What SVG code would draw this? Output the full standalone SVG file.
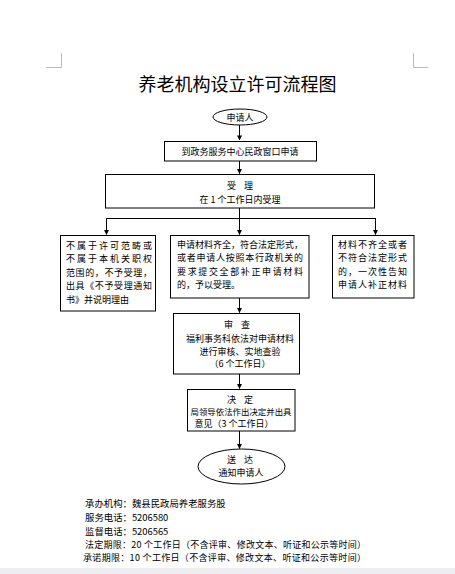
<svg xmlns="http://www.w3.org/2000/svg" width="455" height="574" viewBox="0 0 455 574">
<defs>
<marker id="ah" viewBox="0 0 6 6" refX="5.5" refY="3" markerWidth="5" markerHeight="5" orient="auto" markerUnits="userSpaceOnUse">
<path d="M0,0 L6,3 L0,6 z" fill="#000"/>
</marker>
</defs>
<style>
text{font-family:"Noto Sans CJK SC","Noto Sans",sans-serif;fill:#000;dominant-baseline:central}
.t{font-size:9px}
.c{text-anchor:middle}
.box{fill:#fff;stroke:#000;stroke-width:1}
.ln{fill:none;stroke:#000;stroke-width:1}
.ar{fill:none;stroke:#000;stroke-width:1;marker-end:url(#ah)}
.crn{fill:none;stroke:#bbb;stroke-width:1}
</style>
<rect x="0" y="0" width="455" height="574" fill="#fff"/>
<rect x="0" y="568" width="455" height="6" fill="#eeeef2"/>
<path class="crn" d="M46,67.5 H61.5 V53 M428,67.5 H413.5 V53"/>
<text x="237.5" y="83" class="c" style="font-size:18px">养老机构设立许可流程图</text>

<g id="connectors">
<line class="ar" x1="239.5" y1="125" x2="239.5" y2="140"/>
<line class="ar" x1="239.5" y1="161" x2="239.5" y2="173.5"/>
<line class="ln" x1="239.5" y1="208" x2="239.5" y2="218"/>
<line class="ln" x1="106.5" y1="218.5" x2="375.5" y2="218.5"/>
<line class="ar" x1="106.5" y1="218" x2="106.5" y2="234.5"/>
<line class="ar" x1="239.5" y1="218" x2="239.5" y2="234.5"/>
<line class="ar" x1="375.5" y1="218" x2="375.5" y2="234.5"/>
<line class="ar" x1="239.5" y1="298" x2="239.5" y2="312.5"/>
<line class="ar" x1="239.5" y1="374" x2="239.5" y2="388.5"/>
<line class="ar" x1="239.5" y1="431" x2="239.5" y2="448.5"/>
</g>

<g id="applicant">
<ellipse class="box" cx="240" cy="117" rx="27" ry="8"/>
<text x="240" y="117" class="t c">申请人</text>
</g>

<g id="apply">
<rect class="box" x="164.5" y="141.5" width="152" height="19.5"/>
<text x="240" y="151" class="t c">到政务服务中心民政窗口申请</text>
</g>

<g id="accept">
<rect class="box" x="105.5" y="174.5" width="269" height="33.5"/>
<text x="240" y="185" class="t c" xml:space="preserve">受    理</text>
<text x="240" y="199" class="t c">在 1 个工作日内受理</text>
</g>

<g id="reject">
<rect class="box" x="60.5" y="235.5" width="95" height="75.5"/>
<text x="66" y="245" class="t" textLength="86" lengthAdjust="spacing">不属于许可范畴或</text>
<text x="66" y="258.5" class="t" textLength="86" lengthAdjust="spacing">不属于本机关职权</text>
<text x="66" y="272" class="t" textLength="86" lengthAdjust="spacing">范围的，不予受理，</text>
<text x="66" y="285.5" class="t" textLength="86" lengthAdjust="spacing">出具《不予受理通知</text>
<text x="66" y="299" class="t">书》并说明理由</text>
</g>

<g id="ok">
<rect class="box" x="170.5" y="235.5" width="138.5" height="62.5"/>
<text x="177" y="244" class="t" textLength="126" lengthAdjust="spacing">申请材料齐全，符合法定形式，</text>
<text x="177" y="257.5" class="t" textLength="126" lengthAdjust="spacing">或者申请人按照本行政机关的</text>
<text x="177" y="271" class="t" textLength="126" lengthAdjust="spacing">要求提交全部补正申请材料</text>
<text x="177" y="284.5" class="t">的，予以受理。</text>
</g>

<g id="incomplete">
<rect class="box" x="332.5" y="235.5" width="81.5" height="62.5"/>
<text x="338" y="244" class="t" textLength="69" lengthAdjust="spacing">材料不齐全或者</text>
<text x="338" y="257.5" class="t" textLength="69" lengthAdjust="spacing">不符合法定形式</text>
<text x="338" y="271" class="t" textLength="69" lengthAdjust="spacing">的，一次性告知</text>
<text x="338" y="284.5" class="t" textLength="69" lengthAdjust="spacing">申请人补正材料</text>
</g>

<g id="review">
<rect class="box" x="173.5" y="313.5" width="126" height="60.5"/>
<text x="237" y="324" class="t c" xml:space="preserve">审    查</text>
<text x="240" y="338" class="t c">福利事务科依法对申请材料</text>
<text x="240" y="351" class="t c">进行审核、实地查验</text>
<text x="240" y="363" class="t c">（6 个工作日）</text>
</g>

<g id="decide">
<rect class="box" x="187.5" y="389.5" width="107.5" height="41.5"/>
<text x="240" y="399" class="t c" xml:space="preserve">决    定</text>
<text x="241" y="411" class="c" style="font-size:8.5px" textLength="101" lengthAdjust="spacingAndGlyphs">局领导依法作出决定并出具</text>
<text x="234" y="423" class="t c">意见（3 个工作日）</text>
</g>

<g id="deliver">
<ellipse class="box" cx="241.5" cy="466.5" rx="43.5" ry="17.5"/>
<text x="240" y="459" class="t c" xml:space="preserve">送    达</text>
<text x="241" y="472" class="t c">通知申请人</text>
</g>

<g id="footer" style="font-size:9.4px">
<text x="85" y="503">承办机构：魏县民政局养老服务股</text>
<text x="85" y="517">服务电话：5206580</text>
<text x="85" y="531">监督电话：5206565</text>
<text x="85" y="544" style="font-size:9px" textLength="281" lengthAdjust="spacing">法定期限：20 个工作日（不含评审、修改文本、听证和公示等时间）</text>
<text x="83" y="557.5" style="font-size:9px" textLength="283" lengthAdjust="spacing">承诺期限：10 个工作日（不含评审、修改文本、听证和公示等时间）</text>
</g>
</svg>
